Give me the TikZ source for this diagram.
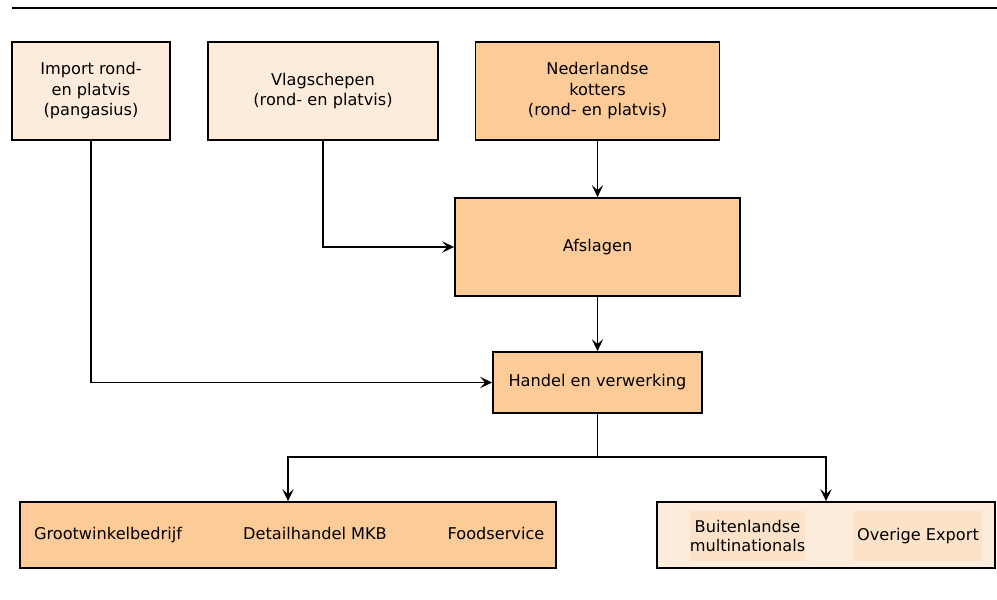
\documentclass[tikz,border=0pt]{standalone}
\usepackage{fontspec}
\setmainfont{DejaVu Sans}
\usetikzlibrary{arrows.meta}
\definecolor{oranjedonker}{RGB}{253,203,152}
\definecolor{oranjelicht}{RGB}{253,236,219}
\definecolor{oranjemidden}{RGB}{252,226,200}
\newcommand{\lijndikte}{1.2pt}

\begin{document}
\begin{tikzpicture}[x=0.025cm,y=-0.025cm,
    vak/.style={draw,line width=\lijndikte,align=center,inner sep=0pt,font=\fontsize{11.5}{14.6}\selectfont},
    donker/.style={vak,fill=oranjedonker},
    licht/.style={vak,fill=oranjelicht},
    tekst/.style={align=center,inner sep=0pt,font=\fontsize{11.5}{14}\selectfont},
    pijl/.style={-{Stealth[length=8.5pt,width=8pt,inset=3.5pt]},line width=1.4pt}]
        \useasboundingbox (0,0) rectangle (997,599);
        \draw[line width=\lijndikte] (12,8) -- (997,8);
        % bronnen
        \node[licht,minimum width=3.95cm,minimum height=2.45cm] (imp) at (91,91) {Import rond-\\en platvis\\(pangasius)};
        \node[licht,minimum width=5.75cm,minimum height=2.45cm] (vlag) at (323,91) {Vlagschepen\\(rond- en platvis)};
        \node[donker,minimum width=6.1cm,minimum height=2.45cm] (ned) at (597.5,91) {Nederlandse\\kotters\\(rond- en platvis)};
        \node[donker,minimum width=7.125cm,minimum height=2.45cm] (afs) at (597.5,247) {Afslagen};
        \node[donker,minimum width=5.225cm,minimum height=1.525cm] (handel) at (597.5,382.5) {Handel en verwerking};
        % afzet
        \node[donker,minimum width=13.4cm,minimum height=1.65cm] (binnen) at (288,535) {};
        \node[tekst,text height=1.6ex,text depth=0.5ex] (gwb) at (108,535) {Grootwinkelbedrijf};
        \node[tekst,text height=1.6ex,text depth=0.5ex] (mkb) at (315,535) {Detailhandel MKB};
        \node[tekst,text height=1.6ex,text depth=0.5ex] (food) at (496,535) {Foodservice};
        \node[licht,minimum width=8.45cm,minimum height=1.65cm] (buiten) at (826,535) {};
        \node[tekst,fill=oranjemidden,minimum width=2.775cm,minimum height=1.25cm] (multi) at (747.5,536) {Buitenlandse\\multinationals};
        \node[tekst,fill=oranjemidden,minimum width=3.2cm,minimum height=1.25cm] (export) at (918,536) {Overige Export};
        % verbindingen
        \draw[pijl] (ned.south) -- (ned.south |- afs.north);
        \draw[pijl] (vlag.south) |- (afs.west);
        \draw[pijl] (afs.south) -- (handel.north);
        \draw[pijl] (imp.south) |- (handel.west);
        \coordinate (splits) at (597.5,457);
        \draw[line width=1.4pt] (handel.south) -- (splits);
        \draw[pijl] (splits) -| (binnen.north);
        \draw[pijl] (splits) -| (buiten.north);
      \end{tikzpicture}
\end{document}
